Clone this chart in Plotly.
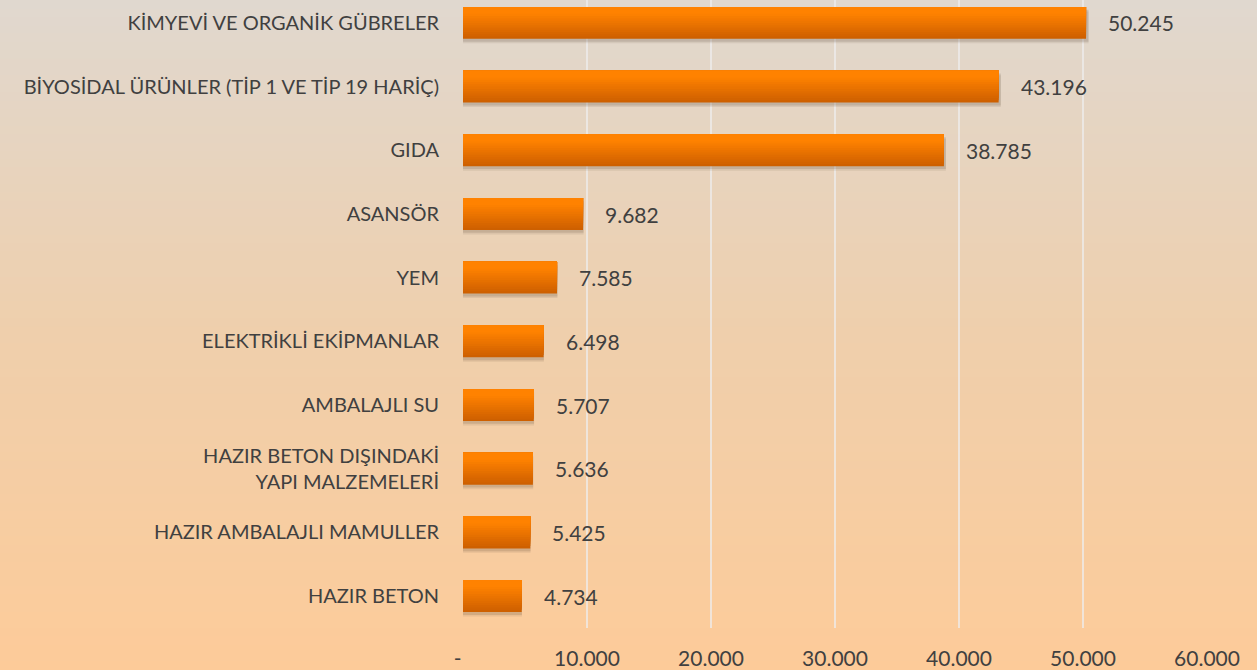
import plotly.graph_objects as go

categories = [
    "KİMYEVİ VE ORGANİK GÜBRELER",
    "BİYOSİDAL ÜRÜNLER (TİP 1 VE TİP 19 HARİÇ)",
    "GIDA",
    "ASANSÖR",
    "YEM",
    "ELEKTRİKLİ EKİPMANLAR",
    "AMBALAJLI SU",
    "HAZIR BETON DIŞINDAKİ<br>YAPI MALZEMELERİ",
    "HAZIR AMBALAJLI MAMULLER",
    "HAZIR BETON",
]
values = [50245, 43196, 38785, 9682, 7585, 6498, 5707, 5636, 5425, 4734]
x_tickvals = [0, 10000, 20000, 30000, 40000, 50000, 60000]
x_ticktext = ["-\u2002", "10.000", "20.000", "30.000", "40.000", "50.000", "60.000"]

FONT = "Lato"
TXT = "#404040"
W, H = 1257, 670
ML, MR, MT, MB = 463, 50, 0, 42

def lerp(c1, c2, t):
    return tuple(round(a + (b - a) * t) for a, b in zip(c1, c2))

def hexrgb(h):
    h = h.lstrip("#")
    return tuple(int(h[i:i + 2], 16) for i in (0, 2, 4))

y_idx = list(range(len(categories)))
fig = go.Figure()

# shadow
for dy, alpha in [(0.07, 0.10), (0.045, 0.16)]:
    fig.add_trace(go.Bar(
        x=[v * 1.004 for v in values], y=y_idx, orientation="h",
        width=0.5, offset=-0.25 + dy,
        marker=dict(color=f"rgba(90,70,50,{alpha})", line=dict(width=0)),
        hoverinfo="skip", showlegend=False,
    ))

# gradient bars (layers covering the top part)
top_c = hexrgb("#FF8200")
bot_c = hexrgb("#CC5E00")
N = 14
for k in range(N):
    frac = 1 - k / N
    t = frac - 0.5 / N
    tt = max(0.0, (t - 0.2) / 0.8)
    c = lerp(top_c, bot_c, tt)
    fig.add_trace(go.Bar(
        x=values, y=y_idx, orientation="h",
        width=0.5 * frac, offset=-0.25,
        marker=dict(color=f"rgb{c}", line=dict(width=0)),
        hoverinfo="skip", showlegend=False,
    ))

# value labels
for i, v in enumerate(values):
    fig.add_annotation(
        x=v, y=i, xref="x", yref="y", text=f"{v:,}".replace(",", "."),
        showarrow=False, xanchor="left", xshift=20, yshift=0,
        font=dict(family=FONT, size=21, color=TXT),
    )

# background gradient
bg_top = hexrgb("#E0D8CF")
bg_mid = hexrgb("#EFCFAC")
bg_bot = hexrgb("#FDCB99")
shapes = []
S = 80
plot_h = H - MT - MB
for s in range(S):
    y0p = s / S
    y1p = (s + 1) / S
    t = 1 - (y0p + y1p) / 2  # 0 top, 1 bottom
    if t < 0.5:
        c = lerp(bg_top, bg_mid, t / 0.5)
    else:
        c = lerp(bg_mid, bg_bot, (t - 0.5) / 0.5)
    fy0 = (y0p * H - MB) / plot_h
    fy1 = ((y1p * H) - MB + 1) / plot_h
    shapes.append(dict(
        type="rect", xref="paper", yref="paper",
        x0=-ML / (W - ML - MR), x1=1 + MR / (W - ML - MR) + 0.01,
        y0=fy0, y1=fy1, fillcolor=f"rgb{c}", line=dict(width=0), layer="below",
    ))

fig.update_layout(
    width=W, height=H,
    margin=dict(l=ML, r=MR, t=MT, b=MB),
    barmode="overlay",
    paper_bgcolor="#EFCFAC",
    plot_bgcolor="rgba(0,0,0,0)",
    shapes=shapes,
    separators=",.",
    font=dict(family=FONT, color=TXT),
    xaxis=dict(
        range=[0, 60000], tickvals=x_tickvals, ticktext=x_ticktext,
        showgrid=True, gridcolor="rgba(238,236,236,0.75)", gridwidth=1.6,
        zeroline=False, showline=False, ticks="",
        tickfont=dict(family=FONT, size=21, color=TXT),
        ticklabelstandoff=16,
    ),
    yaxis=dict(
        range=[9.5, -0.36], tickvals=y_idx, ticktext=categories,
        showgrid=False, zeroline=False, showline=False, ticks="",
        tickfont=dict(family=FONT, size=20, color=TXT),
        ticklabelstandoff=23,
    ),
)

fig.write_html(
    "out.html",
    config={"displayModeBar": False},
    post_script="document.body.style.margin='0';document.body.style.overflow='hidden';",
)
